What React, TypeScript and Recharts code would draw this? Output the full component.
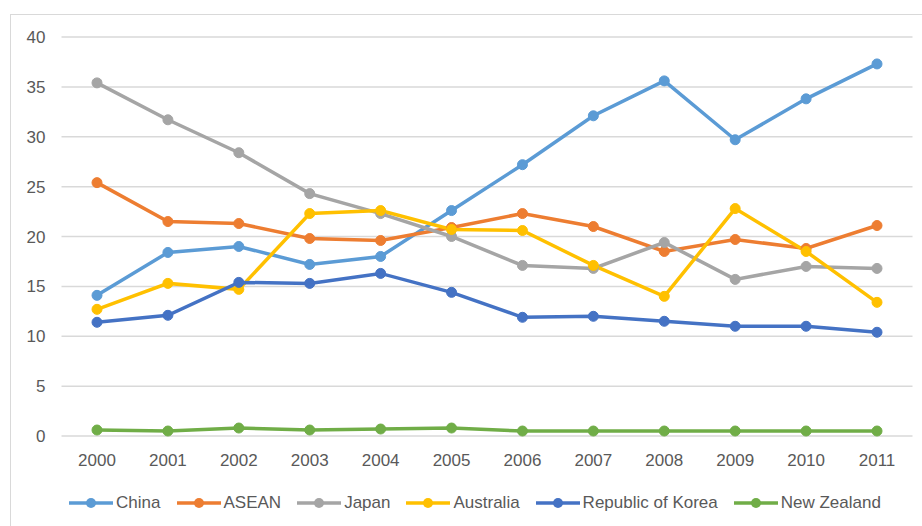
import React from 'react'
import { LineChart, Line, XAxis, YAxis, CartesianGrid, Legend } from 'recharts'

const years = ['2000', '2001', '2002', '2003', '2004', '2005', '2006', '2007', '2008', '2009', '2010', '2011']

const china = [14.1, 18.4, 19.0, 17.2, 18.0, 22.6, 27.2, 32.1, 35.6, 29.7, 33.8, 37.3]
const asean = [25.4, 21.5, 21.3, 19.8, 19.6, 20.9, 22.3, 21.0, 18.5, 19.7, 18.8, 21.1]
const japan = [35.4, 31.7, 28.4, 24.3, 22.3, 20.0, 17.1, 16.8, 19.4, 15.7, 17.0, 16.8]
const australia = [12.7, 15.3, 14.7, 22.3, 22.6, 20.7, 20.6, 17.1, 14.0, 22.8, 18.5, 13.4]
const korea = [11.4, 12.1, 15.4, 15.3, 16.3, 14.4, 11.9, 12.0, 11.5, 11.0, 11.0, 10.4]
const newZealand = [0.6, 0.5, 0.8, 0.6, 0.7, 0.8, 0.5, 0.5, 0.5, 0.5, 0.5, 0.5]

const yTicks = [0, 5, 10, 15, 20, 25, 30, 35, 40]

const series = [
  { key: 'China', values: china, color: '#5B9BD5' },
  { key: 'ASEAN', values: asean, color: '#ED7D31' },
  { key: 'Japan', values: japan, color: '#A5A5A5' },
  { key: 'Australia', values: australia, color: '#FFC000' },
  { key: 'Republic of Korea', values: korea, color: '#4472C4' },
  { key: 'New Zealand', values: newZealand, color: '#70AD47' },
]

const data = years.map((year, i) => {
  const row: Record<string, string | number> = { year }
  series.forEach(s => { row[s.key] = s.values[i] })
  return row
})

const TEXT = '#595959'

// legend drawn in series order (recharts sorts its payload by name)
function LegendContent() {
  return (
    <div style={{ display: 'flex', justifyContent: 'center', gap: 16, paddingLeft: 17 }}>
      {series.map(s => (
        <div key={s.key} style={{ display: 'flex', alignItems: 'center' }}>
          <svg width={44} height={12}>
            <line x1={0} y1={6} x2={44} y2={6} stroke={s.color} strokeWidth={3.5} />
            <circle cx={22} cy={6} r={5} fill={s.color} />
          </svg>
          <span style={{ marginLeft: 3, color: TEXT, fontSize: 17 }}>{s.key}</span>
        </div>
      ))}
    </div>
  )
}

export default function App() {
  return (
    <div
      style={{
        position: 'absolute',
        left: 10,
        top: 14,
        width: 930,
        height: 530,
        border: '1px solid #d9d9d9',
        background: '#fff',
        fontFamily: '"Liberation Sans", Arial, sans-serif',
      }}
    >
      <LineChart width={911} height={515} data={data} margin={{ top: 22, right: 9.5, bottom: 64, left: 10.5 }}>
        <CartesianGrid vertical={false} stroke="#d9d9d9" strokeWidth={1.5} />
        <XAxis
          dataKey="year"
          axisLine={false}
          tickLine={false}
          tickSize={0}
          tickMargin={18}
          height={30}
          padding={{ left: 35.5, right: 35.5 }}
          tick={{ fill: TEXT, fontSize: 17 }}
        />
        <YAxis
          domain={[0, 40]}
          ticks={yTicks}
          axisLine={false}
          tickLine={false}
          tickSize={0}
          tickMargin={16}
          width={40}
          tick={{ fill: TEXT, fontSize: 17 }}
        />
        {series.map(s => (
          <Line
            key={s.key}
            dataKey={s.key}
            stroke={s.color}
            strokeWidth={3.5}
            dot={{ r: 5, fill: s.color, stroke: s.color, strokeWidth: 1 }}
            activeDot={false}
            isAnimationActive={false}
          />
        ))}
        <Legend
          verticalAlign="middle"
          align="center"
          layout="horizontal"
          wrapperStyle={{ top: 478, left: 0, width: 911 }}
          content={<LegendContent />}
        />
      </LineChart>
    </div>
  )
}
